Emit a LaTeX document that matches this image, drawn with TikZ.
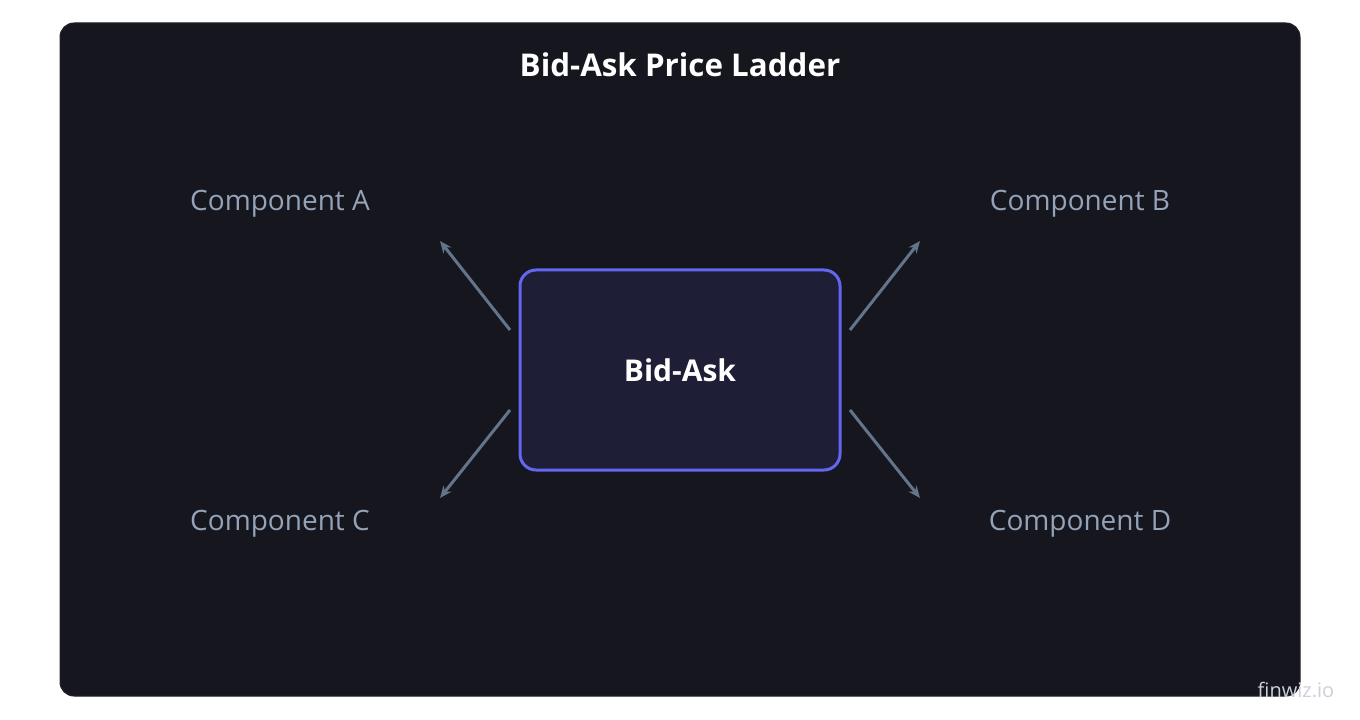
\documentclass[tikz,border=0pt]{standalone}
\usepackage{fontspec}
\setmainfont{Open Sans}
\usetikzlibrary{arrows.meta}
\definecolor{panelBg}{HTML}{16161F}
\definecolor{panelLine}{HTML}{22222E}
\definecolor{boxBg}{HTML}{1E1E36}
\definecolor{boxLine}{HTML}{6366F1}
\definecolor{arrowGray}{HTML}{64748B}
\definecolor{labelGray}{HTML}{94A3B8}
\definecolor{markGray}{HTML}{CDD0D8}
\tikzset{
    objPanel/.style={rectangle, rounded corners=10.5pt, fill=panelBg, draw=panelLine, line width=0.75pt},
    objCenterBox/.style={rectangle, rounded corners=12pt, minimum width=240pt, minimum height=150pt, text centered, draw=boxLine, line width=2.25pt, fill=boxBg, text=white, font=\fontsize{22.5}{26}\selectfont\bfseries},
    objLabel/.style={text=labelGray, font=\fontsize{21}{25}\selectfont},
    objTitle/.style={text=white, font=\fontsize{23.5}{28}\selectfont\bfseries},
    arrow/.style={line width=2.25pt, ->, >={Stealth[length=9pt, width=7.5pt]}, draw=arrowGray}
}
\begin{document}
\begin{tikzpicture}[x=0.75pt, y=-0.75pt, node distance=300pt]
    \useasboundingbox (0,0) rectangle (1360,720);
    \fill[white] (0,0) rectangle (1360,720);
    \draw[objPanel] (60,23) rectangle (1300,696);

    \node (title) [objTitle] at (680,65) {Bid-Ask Price Ladder};
    \node (bidAsk) [objCenterBox] at (680,370) {Bid-Ask};

    \node (compA) [objLabel, left of=bidAsk, yshift=125pt] {Component A};
    \node (compB) [objLabel, right of=bidAsk, yshift=125pt] {Component B};
    \node (compC) [objLabel, left of=bidAsk, yshift=-115pt] {Component C};
    \node (compD) [objLabel, right of=bidAsk, yshift=-115pt] {Component D};

    \node (mark) [text=markGray, font=\fontsize{15}{18}\selectfont] at (1296,690) {finwiz.io};

    \coordinate (aStart) at (510,330);
    \coordinate (aEnd) at (440,241);
    \coordinate (bStart) at (850,330);
    \coordinate (bEnd) at (920,241);
    \coordinate (cStart) at (510,410);
    \coordinate (cEnd) at (440,498);
    \coordinate (dStart) at (850,410);
    \coordinate (dEnd) at (920,498);

    \draw[arrow] (aStart) -- (aEnd);
    \draw[arrow] (bStart) -- (bEnd);
    \draw[arrow] (cStart) -- (cEnd);
    \draw[arrow] (dStart) -- (dEnd);

\end{tikzpicture}
\end{document}
